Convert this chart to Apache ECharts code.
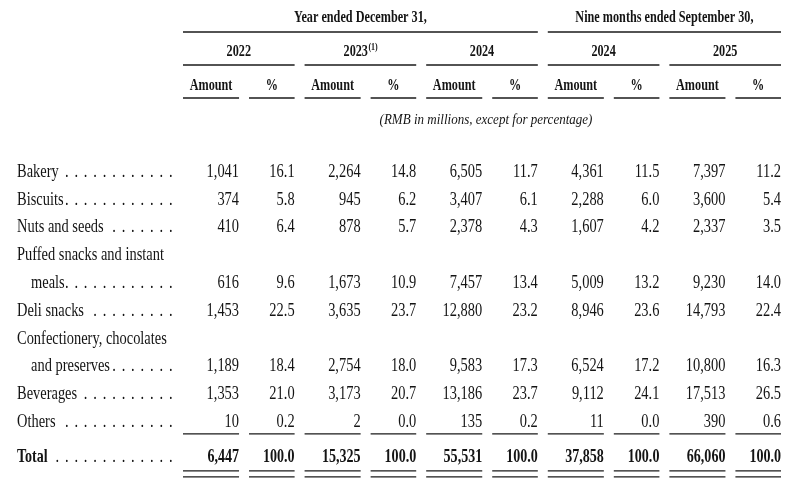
<!DOCTYPE html>
<html>
<head>
<meta charset="utf-8">
<script src="https://cdn.jsdelivr.net/npm/echarts@6/dist/echarts.min.js"></script>
<style>
  html, body { margin: 0; padding: 0; background: #fff; }
  #main { width: 791px; height: 485px; }
</style>
</head>
<body>
<div id="main"></div>
<script>
// column groups
const periodKeys = ['FY2022', 'FY2023', 'FY2024', '9M2024', '9M2025'];
const periodYears = ['2022', '2023', '2024', '2024', '2025'];
const periodNotes = ['', '(1)', '', '', ''];
const periodHeads = ['Year ended December 31,', 'Nine months ended September 30,'];
const periodHeadSpans = [[0, 2], [3, 4]];
const subHeads = ['Amount', '%'];
const unitNote = '(RMB in millions, except for percentage)';

// rows ('|' = label wraps to an indented second line)
const categories = ['Bakery', 'Biscuits', 'Nuts and seeds', 'Puffed snacks and instant|meals',
  'Deli snacks', 'Confectionery, chocolates|and preserves', 'Beverages', 'Others'];
const totalLabel = 'Total';

// RMB millions / %
const amt2022 = [1041, 374, 410, 616, 1453, 1189, 1353, 10];
const pct2022 = [16.1, 5.8, 6.4, 9.6, 22.5, 18.4, 21.0, 0.2];
const amt2023 = [2264, 945, 878, 1673, 3635, 2754, 3173, 2];
const pct2023 = [14.8, 6.2, 5.7, 10.9, 23.7, 18.0, 20.7, 0.0];
const amt2024 = [6505, 3407, 2378, 7457, 12880, 9583, 13186, 135];
const pct2024 = [11.7, 6.1, 4.3, 13.4, 23.2, 17.3, 23.7, 0.2];
const amt9m2024 = [4361, 2288, 1607, 5009, 8946, 6524, 9112, 11];
const pct9m2024 = [11.5, 6.0, 4.2, 13.2, 23.6, 17.2, 24.1, 0.0];
const amt9m2025 = [7397, 3600, 2337, 9230, 14793, 10800, 17513, 390];
const pct9m2025 = [11.2, 5.4, 3.5, 14.0, 22.4, 16.3, 26.5, 0.6];
const totalAmt = [6447, 15325, 55531, 37858, 66060];
const totalPct = [100.0, 100.0, 100.0, 100.0, 100.0];

const amounts = [amt2022, amt2023, amt2024, amt9m2024, amt9m2025];
const pcts = [pct2022, pct2023, pct2024, pct9m2024, pct9m2025];

// ---- layout / style ----
const INK = '#141414';
const RULE = '#1a1a1a';
const SERIF = '"Liberation Serif", "Times New Roman", serif';
const F_BODY = '19px ' + SERIF, S_BODY = 0.76;
const F_TOTAL = 'bold 19px ' + SERIF, S_TOTAL = 0.74;
const F_HEAD = 'bold 16.5px ' + SERIF, S_HEAD = 0.74;
const F_NOTE = 'italic 15.5px ' + SERIF, S_NOTE = 0.84;
const F_SUP = 'bold 10px ' + SERIF, S_SUP = 0.8;
const AMT_COL = [0.041, 0.502];   // fraction of group band
const PCT_COL = [0.584, 0.959];
const LABEL_GAP = 161, INDENT = 14;
const DOT_END = 170.7, DOT_STEP = 9.45;
const TOTAL_SHIFT = 7;

const measureCtx = document.createElement('canvas').getContext('2d');
function textW(text, font, scale) {
  measureCtx.font = font;
  return measureCtx.measureText(text).width * scale;
}

function txt(x, y, text, align, font, scale) {
  return {
    type: 'text', x: x, y: y, scaleX: scale,
    style: { text: text, font: font, fill: INK, textAlign: align, textVerticalAlign: 'middle',
      align: align, verticalAlign: 'middle' }
  };
}
function rule(x1, x2, y) {
  return { type: 'line', shape: { x1: x1, y1: y, x2: x2, y2: y }, style: { stroke: RULE, lineWidth: 1.4 } };
}
const fmtAmt = v => v.toLocaleString('en-US');

// line slots of the body
const slots = [];
const slotOfCat = [];
categories.forEach((c, i) => {
  const parts = c.split('|');
  parts.forEach((p, j) => {
    const last = j === parts.length - 1;
    slots.push({ text: p, indent: j > 0, dots: last, bold: false });
    if (last) slotOfCat[i] = slots.length - 1;
  });
});
slots.push({ text: totalLabel, indent: false, dots: true, bold: true });
const totalSlot = slots.length - 1;

const bodyCells = [];
periodKeys.forEach((k, g) => {
  categories.forEach((c, i) => {
    bodyCells.push({ g: g, s: slotOfCat[i], amt: amounts[g][i], pct: pcts[g][i], total: false });
  });
  bodyCells.push({ g: g, s: totalSlot, amt: totalAmt[g], pct: totalPct[g], total: true });
});

function renderBody(params, api) {
  const cell = bodyCells[params.dataIndex];
  const c = api.coord([api.value(0), api.value(1)]);
  const bw = api.size([1, 1])[0];
  const left = c[0] - bw / 2;
  const y = c[1] + (cell.total ? TOTAL_SHIFT : 0);
  const font = cell.total ? F_TOTAL : F_BODY;
  const sc = cell.total ? S_TOTAL : S_BODY;
  const a0 = left + bw * AMT_COL[0], a1 = left + bw * AMT_COL[1];
  const p0 = left + bw * PCT_COL[0], p1 = left + bw * PCT_COL[1];
  const children = [
    txt(a1, y, fmtAmt(cell.amt), 'right', font, sc),
    txt(p1, y, cell.pct.toFixed(1), 'right', font, sc)
  ];
  if (cell.total) {
    const yo = c[1] - 16;
    children.push(rule(a0, a1, yo), rule(p0, p1, yo));
    [y + 14, y + 20].forEach(yy => children.push(rule(a0, a1, yy), rule(p0, p1, yy)));
  }
  return { type: 'group', children: children };
}

function renderLabel(params, api) {
  const slot = slots[params.dataIndex];
  const c = api.coord([0, api.value(1)]);
  const y = c[1] + (slot.bold ? TOTAL_SHIFT : 0);
  const x = params.coordSys.x - LABEL_GAP + (slot.indent ? INDENT : 0);
  const font = slot.bold ? F_TOTAL : F_BODY;
  const sc = slot.bold ? S_TOTAL : S_BODY;
  const children = [txt(x, y, slot.text, 'left', font, sc)];
  if (slot.dots) {
    const end = x + textW(slot.text, font, sc);
    for (let dx = DOT_END; dx > end + 2; dx -= DOT_STEP) {
      children.push(txt(dx, y, '.', 'center', F_BODY, S_BODY));
    }
  }
  return { type: 'group', children: children };
}

function renderGroupHead(params, api) {
  const g = api.value(0);
  const c1 = api.coord([g, 1]);
  const c2 = api.coord([g, 2]);
  const bw = api.size([1, 1])[0];
  const left = c1[0] - bw / 2;
  const children = [];
  const note = periodNotes[g];
  if (note) {
    const wy = textW(periodYears[g], F_HEAD, S_HEAD), wn = textW(note, F_SUP, S_SUP);
    const xs = c1[0] - (wy + wn) / 2 + wy;
    children.push(txt(xs, c1[1], periodYears[g], 'right', F_HEAD, S_HEAD));
    children.push(txt(xs + 0.5, c1[1] - 5, note, 'left', F_SUP, S_SUP));
  } else {
    children.push(txt(c1[0], c1[1], periodYears[g], 'center', F_HEAD, S_HEAD));
  }
  children.push(rule(left + bw * AMT_COL[0], left + bw * PCT_COL[1], c1[1] + 13));
  [AMT_COL, PCT_COL].forEach((col, j) => {
    const x0 = left + bw * col[0], x1 = left + bw * col[1];
    children.push(txt((x0 + x1) / 2, c2[1], subHeads[j], 'center', F_HEAD, S_HEAD));
    children.push(rule(x0, x1, c2[1] + 12));
  });
  return { type: 'group', children: children };
}

const spanItems = periodHeadSpans.map((s, i) => ({ from: s[0], to: s[1], row: 0, text: periodHeads[i], font: F_HEAD, sc: S_HEAD, line: true, nudge: 0 }));
spanItems.push({ from: 0, to: periodKeys.length - 1, row: 3, text: unitNote, font: F_NOTE, sc: S_NOTE, line: false, nudge: 4 });

function renderSpan(params, api) {
  const it = spanItems[params.dataIndex];
  const bw = api.size([1, 1])[0];
  const ca = api.coord([it.from, it.row]);
  const cb = api.coord([it.to, it.row]);
  const x0 = ca[0] - bw / 2 + bw * AMT_COL[0];
  const x1 = cb[0] - bw / 2 + bw * PCT_COL[1];
  const children = [txt((x0 + x1) / 2 + it.nudge, ca[1], it.text, 'center', it.font, it.sc)];
  if (it.line) children.push(rule(x0, x1, ca[1] + 14));
  return { type: 'group', children: children };
}

const chart = echarts.init(document.getElementById('main'));
chart.setOption({
  animation: false,
  backgroundColor: '#fff',
  grid: [
    { left: 178, width: 608, top: 1, height: 136 },
    { left: 178, width: 608, top: 158, height: 305.8 }
  ],
  xAxis: [
    { type: 'category', gridIndex: 0, data: periodKeys, show: false },
    { type: 'category', gridIndex: 1, data: periodKeys, show: false }
  ],
  yAxis: [
    { type: 'category', gridIndex: 0, data: ['head', 'year', 'sub', 'unit'], inverse: true, show: false },
    { type: 'category', gridIndex: 1, data: slots.map((s, i) => 'r' + i), inverse: true, show: false }
  ],
  series: [
    { type: 'custom', xAxisIndex: 0, yAxisIndex: 0, clip: false, silent: true,
      data: spanItems.map(it => [it.from, it.row, it.to]), renderItem: renderSpan },
    { type: 'custom', xAxisIndex: 0, yAxisIndex: 0, clip: false, silent: true,
      data: periodKeys.map((k, g) => [g, 1]), renderItem: renderGroupHead },
    { type: 'custom', xAxisIndex: 1, yAxisIndex: 1, clip: false, silent: true,
      data: slots.map((s, i) => [0, i]), renderItem: renderLabel },
    { type: 'custom', xAxisIndex: 1, yAxisIndex: 1, clip: false, silent: true,
      data: bodyCells.map(c => [c.g, c.s, c.amt, c.pct]), renderItem: renderBody }
  ]
});
</script>
</body>
</html>
